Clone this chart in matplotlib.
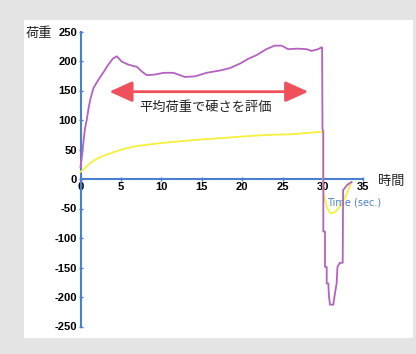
import matplotlib
matplotlib.use("Agg")
import matplotlib.pyplot as plt
from matplotlib.patches import Rectangle

# ---- data ----
load_t = [0.0, 0.15, 0.35, 0.55, 0.77, 1.0, 1.2, 1.6, 2.2, 2.8, 3.4, 4.0, 4.5, 5.1, 5.9, 7.0, 7.6, 8.2,
          9.2, 10.3, 11.5, 12.9, 14.2, 15.6, 17.3, 18.5, 19.8, 20.8, 21.8, 23.0, 24.0, 24.9, 25.7,
          26.9, 28.0, 28.6, 29.4, 29.8, 29.9, 29.95, 30.05, 30.05, 30.26, 30.26, 30.47, 30.47,
          30.67, 30.75, 30.88, 31.29, 31.5, 31.7, 31.8, 32.1, 32.45, 32.5, 33.0, 33.56]
load_v = [20, 35, 61, 85, 100, 120, 134, 154, 168, 180, 193, 204, 208, 199, 194, 190, 182, 176,
          177, 180, 180, 173, 174, 180, 184, 188, 196, 204, 210, 220, 226, 226, 220,
          221, 220, 217, 220, 223, 223, 85, 80, -89, -89, -149, -149, -177,
          -177, -199, -213, -213, -193, -177, -149, -142, -142, -19, -10, -5]

disp_t = [0.0, 0.5, 1.2, 2.0, 2.8, 4.0, 4.9, 6.0, 7.0, 8.2, 9.4, 11.5, 14.0, 16.0, 18.1, 20.0, 22.2,
          24.0, 26.3, 28.0, 29.8, 30.0, 30.0, 30.05, 30.26, 30.5, 30.8, 31.1, 31.5, 31.9,
          32.4, 32.9, 33.3, 33.5]
disp_v = [12, 18, 27, 34, 39, 45, 49, 53, 56, 58, 60, 63, 66, 68, 70, 72, 74,
          75, 76, 78, 80, 80, 0, -19, -36, -48, -56, -58, -56, -50,
          -41, -27, -12, -7]

x_ticks = [0, 5, 10, 15, 20, 25, 30, 35]
y_ticks = [-250, -200, -150, -100, -50, 0, 50, 100, 150, 200, 250]

arrow_from = 3.57
arrow_to = 28.2
arrow_y = 148

BLUE = "#4a7fd0"
PURPLE = "#b462c0"
YELLOW = "#f4f03c"
RED = "#f0505c"
JP = ["Noto Sans CJK JP", "DejaVu Sans"]

fig = plt.figure(figsize=(4.16, 3.54), dpi=100)
fig.patch.set_facecolor("#e4e4e4")
fig.patches.append(Rectangle((24 / 416, (354 - 338) / 354), (413 - 24) / 416, (338 - 20) / 354,
                             transform=fig.transFigure, facecolor="white", edgecolor="none", zorder=-10))

ax = fig.add_axes([80.5 / 416, (354 - 326.5) / 354, (363.3 - 80.5) / 416, (326.5 - 31.5) / 354])
ax.set_zorder(5)
ax.patch.set_visible(False)
ax.set_xlim(0, 35)
ax.set_ylim(-250, 250)

for s in ["top", "right"]:
    ax.spines[s].set_visible(False)
ax.spines["bottom"].set_position(("data", 0))
ax.spines["left"].set_position(("data", 0))
for s in ["bottom", "left"]:
    ax.spines[s].set_color(BLUE)
    ax.spines[s].set_linewidth(1.5)

ax.set_xticks(x_ticks)
ax.set_yticks(y_ticks)
ax.set_xticklabels([str(v) for v in x_ticks])
ax.set_yticklabels([str(v) for v in y_ticks])
ax.tick_params(axis="both", colors=BLUE, length=3, width=1, direction="inout", pad=1,
               labelcolor="black", labelsize=8)
for lab in ax.get_xticklabels() + ax.get_yticklabels():
    lab.set_fontfamily("Liberation Sans")
    lab.set_fontweight("bold")

ax.plot(disp_t, disp_v, color=YELLOW, lw=1.3, zorder=3, clip_on=False)
ax.plot(load_t, load_v, color=PURPLE, lw=1.3, zorder=4, clip_on=False)

ax.annotate("", xy=(arrow_from, arrow_y), xytext=(arrow_to, arrow_y),
            arrowprops=dict(arrowstyle="<|-|>,head_length=1.0,head_width=0.45", color=RED, lw=2.0,
                            shrinkA=0, shrinkB=0, mutation_scale=14))
ax.text(15.5, 122, "平均荷重で硬さを評価", family=JP, fontsize=9.5, ha="center", va="center", color="#222222")

ax.text(-5.1, 247, "荷重", family=JP, fontsize=9.5, ha="center", va="center", color="#222222", clip_on=False)
ax.text(38.4, -5, "時間", family=JP, fontsize=9.5, ha="center", va="center", color="#222222", clip_on=False)
ax.text(33.9, -39, "Time (sec.)", family="DejaVu Sans", fontsize=7, ha="center", va="center",
        color=BLUE, clip_on=False)

fig.savefig("out.png", dpi=100)
